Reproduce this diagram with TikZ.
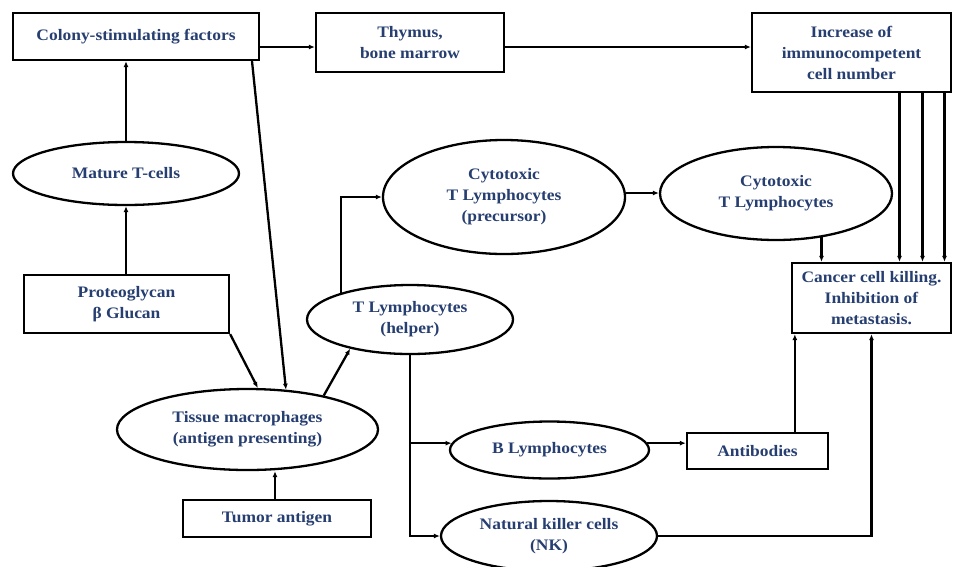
\documentclass[tikz,border=0pt]{standalone}
\usepackage{fontspec}
\setmainfont[FakeStretch=1.09]{Liberation Serif}
\usetikzlibrary{shapes.geometric,arrows.meta}
\definecolor{txtblue}{RGB}{38,62,112}
\begin{document}
\begin{tikzpicture}[x=1pt,y=-1pt,
  every node/.style={font=\bfseries\fontsize{16}{21}\selectfont, text=txtblue, align=center, inner sep=0pt},
  box/.style={draw, line width=2.3pt, rectangle},
  oval/.style={draw, line width=2.3pt, ellipse},
  arr/.style={line width=2.3pt, -{Latex[length=6pt,width=5pt]}}]
\useasboundingbox (0,0) rectangle (956,566);
% boxes
\node[box, minimum width=246pt, minimum height=47pt] (colony) at (136,36.5) {Colony-stimulating factors};
\node[box, minimum width=188pt, minimum height=59pt] (thymus) at (410,42.5) {Thymus,\\bone marrow};
\node[box, minimum width=199pt, minimum height=79pt] (increase) at (851.5,52.5) {Increase of\\immunocompetent\\cell number};
\node[box, minimum width=205pt, minimum height=58pt] (proteo) at (126.5,304) {Proteoglycan\\β Glucan};
\node[box, minimum width=188pt, minimum height=37pt] (tumor) at (277,518.5) {Tumor antigen};
\node[box, minimum width=159pt, minimum height=70pt] (cancer) at (871.5,298) {Cancer cell killing.\\Inhibition of\\metastasis.};
\node[box, minimum width=141pt, minimum height=36pt] (antib) at (757.5,451) {Antibodies};
% ovals
\node[oval, minimum width=226pt, minimum height=63pt] (mature) at (126,173.5) {Mature T-cells};
\node[oval, minimum width=261pt, minimum height=81pt] (tissue) at (247.5,429.5) {Tissue macrophages\\(antigen presenting)};
\node[oval, minimum width=206pt, minimum height=69pt] (thelper) at (410,319.5) {T Lymphocytes\\(helper)};
\node[oval, minimum width=242pt, minimum height=114pt] (precursor) at (504,197) {Cytotoxic\\T Lymphocytes\\(precursor)};
\node[oval, minimum width=232pt, minimum height=93pt] (cyto) at (776,193.5) {Cytotoxic\\T Lymphocytes};
\node[oval, minimum width=199pt, minimum height=57pt] (blym) at (549.5,450) {B Lymphocytes};
\node[oval, minimum width=216pt, minimum height=70pt] (nk) at (549,536) {Natural killer cells\\(NK)};
% connectors
\draw[arr] (colony.east |- 0,47) -- (thymus.west |- 0,47);
\draw[arr] (thymus.east |- 0,47) -- (increase.west |- 0,47);
\draw[arr] (mature.north) -- (colony.south -| mature.north);
\draw[arr] (proteo.north -| mature.south) -- (mature.south);
\draw[arr] ([xshift=116pt]colony.south) -- (tissue.46);
\draw[arr] (proteo.south east) -- (tissue.76);
\draw[arr] (tumor.north -| 275,0) -- (tissue.south -| 275,0);
\draw[arr] (tissue.24) -- (thelper.206);
\draw[arr] (thelper.159) |- (precursor.west);
\draw[arr] (precursor.east |- 0,193) -- (cyto.west |- 0,193);
\draw[arr] (cyto.-44) -- (cyto.-44 |- cancer.north);
\draw[arr] ([xshift=48pt]increase.south) -- ([xshift=48pt]increase.south |- cancer.north);
\draw[arr] ([xshift=71pt]increase.south) -- ([xshift=71pt]increase.south |- cancer.north);
\draw[arr] ([xshift=93pt]increase.south) -- ([xshift=93pt]increase.south |- cancer.north);
\draw[arr] (thelper.south) |- (nk.west);
\draw[arr] (thelper.south |- blym.176) -- (blym.176);
\draw[arr] (blym.4) -- (antib.west |- blym.4);
\draw[arr] ([xshift=4pt]cancer.south west |- antib.north) -- ([xshift=4pt]cancer.south west);
\draw[arr] (nk.east) -| (cancer.south);
\end{tikzpicture}
\end{document}
